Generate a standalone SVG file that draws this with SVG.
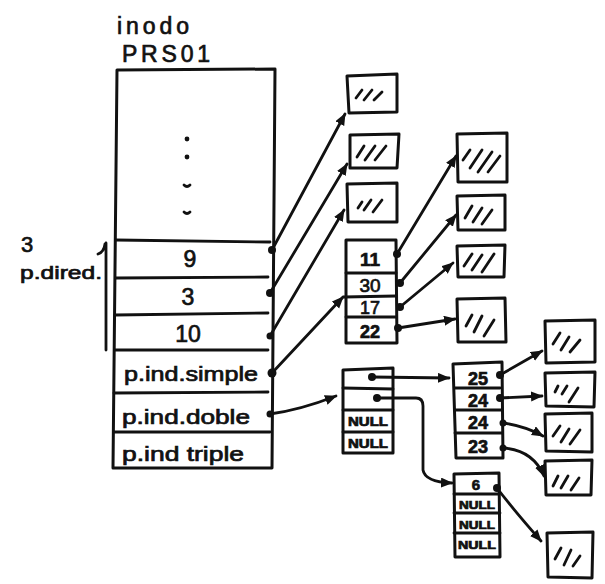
<svg xmlns="http://www.w3.org/2000/svg" width="605" height="584" viewBox="0 0 605 584">
<defs>
<style>
.box{fill:#fff;stroke:#111;stroke-width:3;stroke-linejoin:round}
.ln{stroke:#111;stroke-width:2.8;fill:none;stroke-linecap:round}
.h{stroke:#111;stroke-width:2.8;stroke-linecap:round;fill:none}
.t{font-family:"Liberation Sans",Arial,sans-serif;fill:#111;stroke:#111;stroke-width:0.7}
.c{stroke:#111;stroke-width:2.8;fill:none;stroke-linecap:round;marker-end:url(#ah)}
.d{fill:#111}
</style>
<marker id="ah" markerUnits="userSpaceOnUse" markerWidth="14" markerHeight="12" refX="11" refY="5" orient="auto">
<path d="M0,0 L12,5 L0,10 z" fill="#111"/>
</marker>
</defs>
<rect width="605" height="584" fill="#fff"/>

<g id="title">
<text class="t" x="117" y="34" font-size="23" textLength="72" lengthAdjust="spacing">inodo</text>
<text class="t" x="122" y="62" font-size="23" textLength="88" lengthAdjust="spacing">PRS01</text>
</g>

<g id="direct-label">
<text class="t" x="21" y="252" font-size="22">3</text>
<text class="t" x="20" y="279" font-size="18" textLength="82" lengthAdjust="spacingAndGlyphs">p.dired.</text>
<path class="ln" d="M98,254 Q104,252 105,244 M106,243 L106,350"/>
</g>

<g id="inode">
<path class="box" d="M117,70 L275,69 L272,468 L113,468 Z"/>
<path class="ln" d="M116,240 L270,242 M116,278 L268,277 M115,315 L268,313 M115,350 L268,350 M114,393 L268,392 M114,432 L270,432"/>
<circle class="d" cx="187" cy="139" r="2.4"/>
<circle class="d" cx="187" cy="157" r="2.4"/>
<path class="h" d="M184,185 Q187,188 190,185 M184,212 Q187,215 190,212"/>
<text class="t" x="190" y="267" font-size="23" text-anchor="middle">9</text>
<text class="t" x="188" y="305" font-size="23" text-anchor="middle">3</text>
<text class="t" x="188" y="342" font-size="23" text-anchor="middle">10</text>
<text class="t" x="124" y="381" font-size="20" textLength="134" lengthAdjust="spacingAndGlyphs">p.ind.simple</text>
<text class="t" x="122" y="424" font-size="20" textLength="128" lengthAdjust="spacingAndGlyphs">p.ind.doble</text>
<text class="t" x="122" y="461" font-size="20" textLength="122" lengthAdjust="spacingAndGlyphs">p.ind triple</text>
</g>

<g id="block-a"><path class="box" d="M347,76 L397,74 L397,112 L349,113 Z"/><path class="h" d="M356,98 L362,90 M364,100 L372,90 M374,100 L382,92"/></g>
<g id="block-b"><path class="box" d="M350,135 L399,134 L397,168 L350,168 Z"/><path class="h" d="M357,157 L364,146 M365,160 L375,146 M375,160 L386,146"/></g>
<g id="block-c"><path class="box" d="M347,184 L397,183 L397,222 L348,222 Z"/><path class="h" d="M358,208 L362,202 M364,210 L371,200 M373,212 L382,200"/></g>

<g id="ind-simple">
<path class="box" d="M346,240 L396,240 L397,343 L346,343 Z"/>
<path class="ln" d="M346,273 L396,273 M344,297 L396,296 M346,317 L396,317"/>
<text class="t" x="370" y="266" font-size="19" font-weight="bold" text-anchor="middle">11</text>
<text class="t" x="370" y="292" font-size="19" text-anchor="middle">30</text>
<text class="t" x="370" y="314" font-size="18" text-anchor="middle">17</text>
<text class="t" x="370" y="338" font-size="18" font-weight="bold" text-anchor="middle">22</text>
</g>

<g id="block-d"><path class="box" d="M457,134 L507,133 L507,182 L458,182 Z"/><path class="h" d="M463,160 L470,150 M470,168 L482,150 M478,172 L492,152 M488,172 L500,156"/></g>
<g id="block-e"><path class="box" d="M457,196 L505,195 L505,230 L458,230 Z"/><path class="h" d="M465,218 L472,206 M473,222 L482,208 M482,224 L492,210"/></g>
<g id="block-f"><path class="box" d="M457,246 L505,245 L504,277 L458,277 Z"/><path class="h" d="M464,266 L472,254 M472,270 L482,255 M482,272 L494,254"/></g>
<g id="block-g"><path class="box" d="M457,299 L505,298 L506,342 L458,342 Z"/><path class="h" d="M466,326 L472,315 M474,332 L482,316 M484,336 L494,320"/></g>

<g id="ind-doble">
<path class="box" d="M343,370 L393,368 L393,453 L343,453 Z"/>
<path class="ln" d="M343,388 L393,389 M343,410 L393,410 M343,432 L393,432"/>
<text class="t" x="368" y="426" font-size="12" font-weight="bold" text-anchor="middle" textLength="40" lengthAdjust="spacingAndGlyphs">NULL</text>
<text class="t" x="368" y="448" font-size="12" font-weight="bold" text-anchor="middle" textLength="40" lengthAdjust="spacingAndGlyphs">NULL</text>
</g>

<g id="ind-doble-l2a">
<path class="box" d="M453,364 L502,362 L503,458 L456,458 Z"/>
<path class="ln" d="M455,388 L500,388 M455,410 L502,410 M455,433 L502,433"/>
<text class="t" x="478" y="385" font-size="18" font-weight="bold" text-anchor="middle">25</text>
<text class="t" x="478" y="407" font-size="18" font-weight="bold" text-anchor="middle">24</text>
<text class="t" x="478" y="429" font-size="18" font-weight="bold" text-anchor="middle">24</text>
<text class="t" x="478" y="453" font-size="18" font-weight="bold" text-anchor="middle">23</text>
</g>

<g id="ind-doble-l2b">
<path class="box" d="M454,474 L499,473 L500,557 L455,557 Z"/>
<path class="ln" d="M454,494 L499,494 M454,513 L500,513 M454,533 L500,533"/>
<text class="t" x="476" y="490" font-size="15" font-weight="bold" text-anchor="middle">6</text>
<text class="t" x="477" y="509" font-size="11" font-weight="bold" text-anchor="middle" textLength="36" lengthAdjust="spacingAndGlyphs">NULL</text>
<text class="t" x="477" y="529" font-size="11" font-weight="bold" text-anchor="middle" textLength="36" lengthAdjust="spacingAndGlyphs">NULL</text>
<text class="t" x="477" y="549" font-size="11" font-weight="bold" text-anchor="middle" textLength="38" lengthAdjust="spacingAndGlyphs">NULL</text>
</g>

<g id="block-j1"><path class="box" d="M545,321 L595,320 L595,362 L546,363 Z"/><path class="h" d="M553,344 L560,333 M561,350 L569,337 M570,352 L580,340"/></g>
<g id="block-j2"><path class="box" d="M545,373 L595,372 L594,407 L546,406 Z"/><path class="h" d="M555,392 L558,386 M562,394 L567,386 M569,402 L578,388"/></g>
<g id="block-j3"><path class="box" d="M545,414 L592,413 L592,452 L546,451 Z"/><path class="h" d="M553,436 L560,426 M561,442 L569,429 M570,444 L580,430"/></g>
<g id="block-j4"><path class="box" d="M545,461 L592,460 L591,495 L546,495 Z"/><path class="h" d="M553,486 L558,476 M561,488 L568,476 M571,490 L579,478"/></g>
<g id="block-k"><path class="box" d="M547,533 L593,532 L592,578 L548,577 Z"/><path class="h" d="M555,559 L561,548 M564,565 L571,550 M573,566 L580,556"/></g>

<g id="connectors">
<path class="c" d="M272,250 L345,114"/>
<path class="c" d="M270,293 L347,164"/>
<path class="c" d="M270,336 L344,210"/>
<path class="c" d="M272,373 L343,297"/>
<path class="c" d="M270,414 Q300,410 336,396"/>
<path class="c" d="M397,254 L456,156"/>
<path class="c" d="M400,283 L456,215"/>
<path class="c" d="M400,307 L453,263"/>
<path class="c" d="M398,328 L455,319"/>
<path class="c" d="M372,377 L449,378"/>
<path class="c" d="M377,398 L416,398 Q423,398 423,406 L423,470 Q425,482 452,483"/>
<path class="c" d="M500,375 L542,351"/>
<path class="c" d="M500,398 L542,396"/>
<path class="c" d="M503,423 Q525,426 543,436"/>
<path class="c" d="M503,448 Q533,450 544,476"/>
<path class="c" d="M497,488 Q512,508 541,541"/>
<circle class="d" cx="272" cy="250" r="4"/>
<circle class="d" cx="270" cy="293" r="4"/>
<circle class="d" cx="270" cy="336" r="3.5"/>
<circle class="d" cx="272" cy="373" r="4.5"/>
<circle class="d" cx="270" cy="414" r="3.5"/>
<circle class="d" cx="397" cy="254" r="4"/>
<circle class="d" cx="400" cy="283" r="4"/>
<circle class="d" cx="400" cy="307" r="4"/>
<circle class="d" cx="398" cy="328" r="4"/>
<circle class="d" cx="372" cy="377" r="4"/>
<circle class="d" cx="377" cy="398" r="4"/>
<circle class="d" cx="500" cy="375" r="4"/>
<circle class="d" cx="500" cy="398" r="4"/>
<circle class="d" cx="503" cy="423" r="3.5"/>
<circle class="d" cx="503" cy="448" r="3.5"/>
<circle class="d" cx="497" cy="488" r="4"/>
</g>
</svg>
